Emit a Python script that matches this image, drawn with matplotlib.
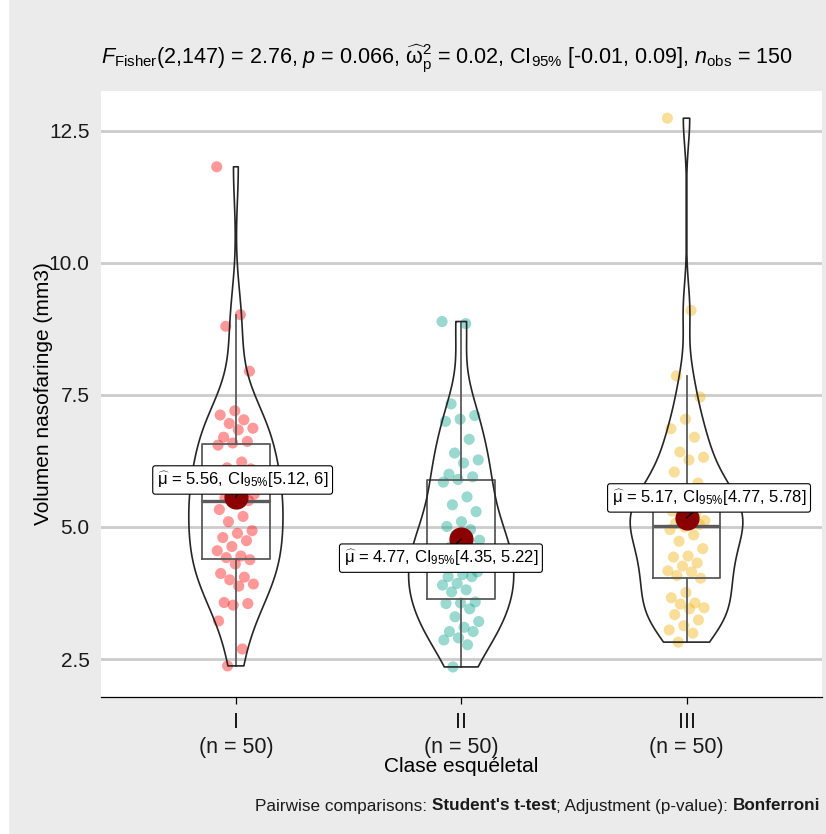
import numpy as np
import matplotlib.pyplot as plt
from matplotlib.patches import Rectangle
from matplotlib.ticker import FormatStrFormatter

plt.rcParams['font.family'] = ['Liberation Sans', 'DejaVu Sans']
plt.rcParams['mathtext.fontset'] = 'custom'
plt.rcParams['mathtext.rm'] = 'Liberation Sans'
plt.rcParams['mathtext.it'] = 'Liberation Sans:italic'
plt.rcParams['mathtext.bf'] = 'Liberation Sans:bold'

# data
groups = ["I", "II", "III"]
n_obs = [50, 50, 50]
vol_I = [11.82, 9.02, 8.80, 7.95, 7.20, 7.12, 7.03, 6.96, 6.87, 6.84, 6.70, 6.62, 6.59,
         6.55, 6.23, 6.12, 6.10, 5.95, 5.85, 5.75, 5.66, 5.62, 5.58, 5.55, 5.50,
         5.47, 5.33, 5.20, 5.10, 4.93, 4.88, 4.80, 4.74, 4.63, 4.55, 4.45, 4.42, 4.38,
         4.30, 4.12, 4.05, 4.00, 3.92, 3.88, 3.57, 3.55, 3.52, 3.22, 2.69, 2.37]
vol_II = [8.89, 8.85, 7.33, 7.11, 7.04, 7.00, 6.66, 6.40, 6.27, 6.21, 6.00, 5.95, 5.90,
          5.85, 5.57, 5.42, 5.29, 5.10, 5.01, 4.95, 4.85, 4.75, 4.70, 4.62, 4.58,
          4.50, 4.45, 4.35, 4.25, 4.15, 4.10, 4.06, 4.06, 3.93, 3.90, 3.81, 3.77, 3.58,
          3.56, 3.55, 3.45, 3.30, 3.21, 3.10, 3.02, 3.02, 2.90, 2.86, 2.77, 2.35]
vol_III = [12.74, 9.10, 7.86, 7.46, 7.04, 6.86, 6.70, 6.42, 6.32, 6.27, 6.04, 5.83, 5.62,
           5.70, 5.65, 5.60, 5.50, 5.40, 5.30, 5.25, 5.16, 5.12, 5.10, 5.07, 5.05,
           5.00, 4.95, 4.85, 4.73, 4.59, 4.45, 4.43, 4.32, 4.26, 4.17, 4.15, 4.08, 4.03,
           3.76, 3.66, 3.56, 3.54, 3.47, 3.45, 3.34, 3.24, 3.13, 3.05, 2.99, 2.82]
means = [5.56, 4.77, 5.17]
ci_low = [5.12, 4.35, 4.77]
ci_high = [6, 5.22, 5.78]
colors = ["#FF0000", "#00A08A", "#F2AD00"]

# where the mean labels sit relative to the mean
label_dx = [0.03, -0.09, 0.10]
label_dy = [0.33, -0.36, 0.38]


def violin_curve(vals):
    v = np.asarray(vals)
    n = len(v)
    q1, q3 = np.percentile(v, [25, 75])
    bw = 0.9 * min(v.std(ddof=1), (q3 - q1) / 1.34) * n ** -0.2
    grid = np.linspace(v.min(), v.max(), 400)
    dens = np.exp(-0.5 * ((grid[:, None] - v[None, :]) / bw) ** 2).sum(1)
    dens = dens / (n * bw * np.sqrt(2 * np.pi))
    return grid, dens


fig = plt.figure(figsize=(8.26, 8.34), dpi=100, facecolor='#EBEBEB')
fig.patches.append(Rectangle((0, 0), 8 / 826, 1, transform=fig.transFigure,
                             color='white', zorder=-1))
ax = fig.add_axes([0.1219, 0.1646, 0.8729, 0.7266])
ax.set_facecolor('white')

data = [vol_I, vol_II, vol_III]
pos = np.arange(1, len(groups) + 1)

# jittered points
for i, vals in enumerate(data):
    k = np.arange(len(vals))
    jit = ((k * 0.618034) % 1 - 0.5) * 0.17
    ax.scatter(pos[i] + jit, vals, s=64, color=colors[i], alpha=0.4,
               edgecolors='none', zorder=2)

# boxes
ax.boxplot(data, positions=pos, widths=0.3, showfliers=False, showcaps=False,
           boxprops=dict(color='#5a5a5a', lw=1.3),
           whiskerprops=dict(color='#5a5a5a', lw=1.3),
           medianprops=dict(color='#5a5a5a', lw=2.4), zorder=3)

# violins
curves = [violin_curve(v) for v in data]
dmax = max(c[1].max() for c in curves)
for i, (grid, dens) in enumerate(curves):
    w = 0.25 * dens / dmax
    ax.fill_betweenx(grid, pos[i] - w, pos[i] + w, facecolor='none',
                     edgecolor='#262626', lw=1.2, zorder=4)

# means and their labels
for i in range(len(groups)):
    lx, ly = pos[i] + label_dx[i], means[i] + label_dy[i]
    ax.scatter(pos[i], means[i], s=270, color='#8B0000', zorder=5)
    ax.plot([pos[i], lx], [means[i], ly], color='black', lw=0.9, zorder=6)
    txt = r"$\widehat{\mathrm{\mu}}$ = %.2f, CI$_{95\%%}$[%s, %s]" % (
        means[i], f"{ci_low[i]:g}", f"{ci_high[i]:g}")
    ax.text(lx, ly, txt, ha='center', va='center', fontsize=12, zorder=7,
            bbox=dict(boxstyle='round,pad=0.25,rounding_size=0.15', fc='white',
                      ec='black', lw=0.8))

ax.set_xlim(0.4, 3.6)
ax.set_ylim(1.786, 13.26)
ax.set_yticks([2.5, 5.0, 7.5, 10.0, 12.5])
ax.yaxis.set_major_formatter(FormatStrFormatter('%.1f'))
ax.set_xticks(pos)
ax.set_xticklabels([f"{g}\n(n = {n})" for g, n in zip(groups, n_obs)],
                   linespacing=1.25)
ax.yaxis.grid(True, color='#CCCCCC', lw=2.0)
ax.set_axisbelow(True)
for s in ['left', 'top', 'right']:
    ax.spines[s].set_visible(False)
ax.spines['bottom'].set_linewidth(0.9)
ax.tick_params(axis='y', length=0, labelsize=15, pad=8, labelcolor='#1a1a1a')
ax.tick_params(axis='x', length=5, width=0.9, labelsize=15.5, pad=6,
               labelcolor='#1a1a1a')

ax.set_ylabel("Volumen nasofaringe (mm3)", fontsize=15)
ax.yaxis.set_label_coords(-0.066, 0.5)
ax.set_xlabel("Clase esquéletal", fontsize=15)
ax.xaxis.set_label_coords(0.5, -0.099)

ax.set_title(r"$\mathit{F}_{\mathrm{Fisher}}$(2,147) = 2.76, $\mathit{p}$ = 0.066, "
             r"$\widehat{\mathrm{\omega}}_{\mathrm{p}}^{2}$ = 0.02, CI$_{95\%}$ [-0.01, 0.09], "
             r"$\mathit{n}_{\mathrm{obs}}$ = 150", loc='left', fontsize=15.5, pad=20)

# caption with bold parts, right aligned
pieces = [("Pairwise comparisons: ", 'normal'), ("Student's t-test", 'bold'),
          ("; Adjustment (p-value): ", 'normal'), ("Bonferroni", 'bold')]
renderer = fig.canvas.get_renderer()
x = 820 / 826
for s, w in reversed(pieces):
    t = fig.text(x, 1 - 806 / 834, s, ha='right', va='center', fontsize=12.3,
                 weight=w, color='#1a1a1a')
    x -= t.get_window_extent(renderer).width / fig.bbox.width

fig.savefig("out.png", dpi=100, facecolor=fig.get_facecolor())
